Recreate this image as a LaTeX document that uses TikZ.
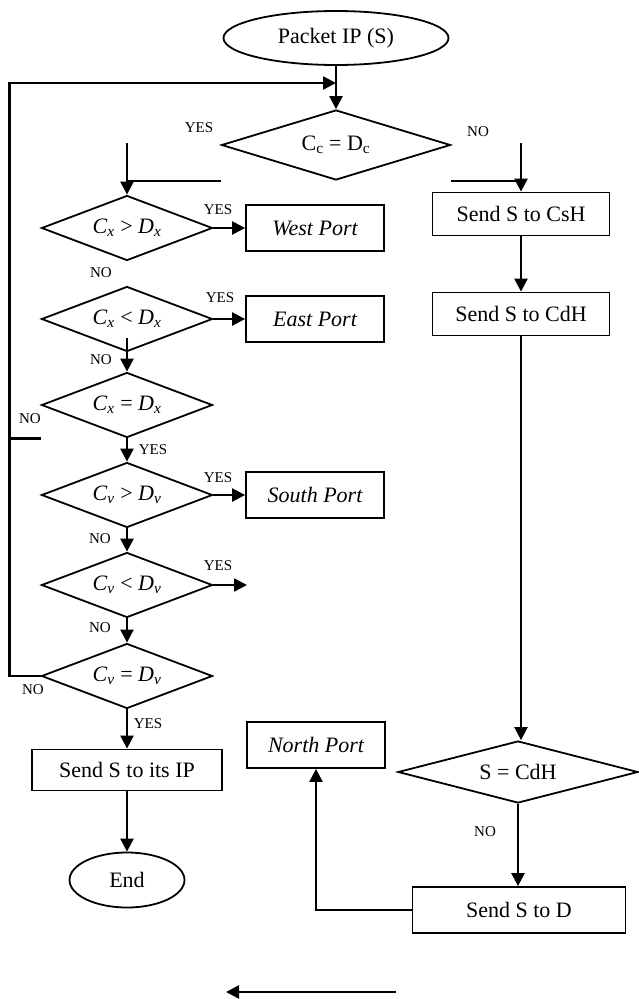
\documentclass[tikz,border=0pt]{standalone}
\usepackage{fontspec}
\setmainfont{Liberation Serif}
\usetikzlibrary{shapes.geometric,arrows.meta}

% C_i <op> D_i in italics
\newcommand{\cdcmp}[2]{\textit{C}\textsubscript{\textit{#1}} #2 \textit{D}\textsubscript{\textit{#1}}}

\begin{document}
\begin{tikzpicture}[x=1pt, y=-1pt,
                    every node/.style={font=\fontsize{22}{26}\selectfont, inner sep=0pt},
                    decision/.style={diamond, draw, line width=1.8pt, aspect=2.6, minimum width=171pt, minimum height=65pt},
                    block/.style={rectangle, draw, line width=1.8pt},
                    port/.style={block, minimum width=138pt, minimum height=46pt, font=\fontsize{22}{26}\selectfont\itshape},
                    term/.style={ellipse, draw, line width=1.8pt},
                    lbl/.style={font=\fontsize{15}{18}\selectfont},
                    wire/.style={line width=2.4pt},
                    arr/.style={wire, -{Triangle[length=13pt,width=13pt]}}]

                    \useasboundingbox (0,0) rectangle (638,999);

                    % Define nodes
                    \node[term, minimum width=225pt, minimum height=54pt] (start) at (336,38) {Packet IP (S)}; % entry
                    \node[decision, aspect=3.3, minimum width=229pt, minimum height=70pt] (dcc) at (336,145) {C\textsubscript{c} = D\textsubscript{c}};

                    \node[decision] (dx1) at (127,228) {\cdcmp{x}{>}};
                    \node[decision] (dx2) at (127,319) {\cdcmp{x}{<}};
                    \node[decision] (dx3) at (127,405) {\cdcmp{x}{=}};
                    \node[decision] (dy1) at (127,495) {\cdcmp{v}{>}};
                    \node[decision] (dy2) at (127,585) {\cdcmp{v}{<}};
                    \node[decision] (dy3) at (127,676) {\cdcmp{v}{=}};

                    \node[port] (west) at (315,228) {West Port};
                    \node[port] (east) at (315,319) {East Port};
                    \node[port] (south) at (315,495) {South Port};
                    \node[port] (north) at (316,745) {North Port};

                    \node[block, minimum width=190pt, minimum height=41pt] (sendip) at (127,770) {Send S to its IP};
                    \node[term, minimum width=115pt, minimum height=55pt] (stop) at (127,880) {End}; % exit

                    \node[block, minimum width=177pt, minimum height=43pt] (csh) at (521,214) {Send S to CsH};
                    \node[block, minimum width=177pt, minimum height=43pt] (cdh) at (521,314) {Send S to CdH};
                    \node[decision, aspect=3.9, minimum width=240pt, minimum height=62pt] (scdh) at (518,772) {S = CdH};
                    \node[block, minimum width=213pt, minimum height=46pt] (sendd) at (519,910) {Send S to D};

                    % Branch labels
                    \node[lbl] (yes0) at (199,128) {YES};
                    \node[lbl] (no0) at (478,132) {NO};
                    \node[lbl] (yes1) at (218,210) {YES};
                    \node[lbl] (no1) at (101,273) {NO};
                    \node[lbl] (yes2) at (220,298) {YES};
                    \node[lbl] (no2) at (101,360) {NO};
                    \node[lbl] (no3) at (30,419) {NO};
                    \node[lbl] (yes3) at (153,450) {YES};
                    \node[lbl] (yes4) at (218,478) {YES};
                    \node[lbl] (no4) at (100,539) {NO};
                    \node[lbl] (yes5) at (218,566) {YES};
                    \node[lbl] (no5) at (100,628) {NO};
                    \node[lbl] (no6) at (33,690) {NO};
                    \node[lbl] (yes6) at (148,724) {YES};
                    \node[lbl] (no7) at (485,832) {NO};

                    % Free ends
                    \coordinate (merge) at (336,83);
                    \coordinate (yesl) at (127,143);
                    \coordinate (nor) at (521,143);
                    \coordinate (ycut) at (247,585);
                    \coordinate (arrR) at (396,992);
                    \coordinate (arrL) at (226,992);

                    % Define edges
                    \draw[arr] (start) -- (dcc);
                    \draw[arr] (dy3.west) -- ++(-31,0) |- (merge);
                    \draw[wire] (dx3.west |- dx3.south) -- ++(-33,0);

                    \draw[wire] (dcc.west |- dcc.south) -- (yesl |- dcc.south);
                    \draw[arr] (yesl) -- (dx1.north);
                    \draw[wire] (dcc.east |- dcc.south) -- (nor |- dcc.south);
                    \draw[arr] (nor) -- (csh.north);

                    \draw[arr] (dx1.east) -- (west.west);
                    \draw[arr] (dx2.east) -- (east.west);
                    \draw[arr] ([yshift=14pt]dx2.south) -- (dx3.north);
                    \draw[arr] (dx3) -- (dy1);
                    \draw[arr] (dy1.east) -- (south.west);
                    \draw[arr] (dy1) -- (dy2);
                    \draw[arr] (dy2.east) -- (ycut);
                    \draw[arr] (dy2) -- (dy3);
                    \draw[arr] (dy3) -- (sendip);
                    \draw[arr] (sendip) -- (stop);

                    \draw[arr] (csh) -- (cdh);
                    \draw[arr] (cdh.south) -- (cdh.south |- scdh.north);
                    \draw[arr] (scdh.south) -- (scdh.south |- sendd.north);
                    \draw[arr] (sendd.west) -| (north.south);

                    \draw[arr] (arrR) -- (arrL);
                \end{tikzpicture}
\end{document}
